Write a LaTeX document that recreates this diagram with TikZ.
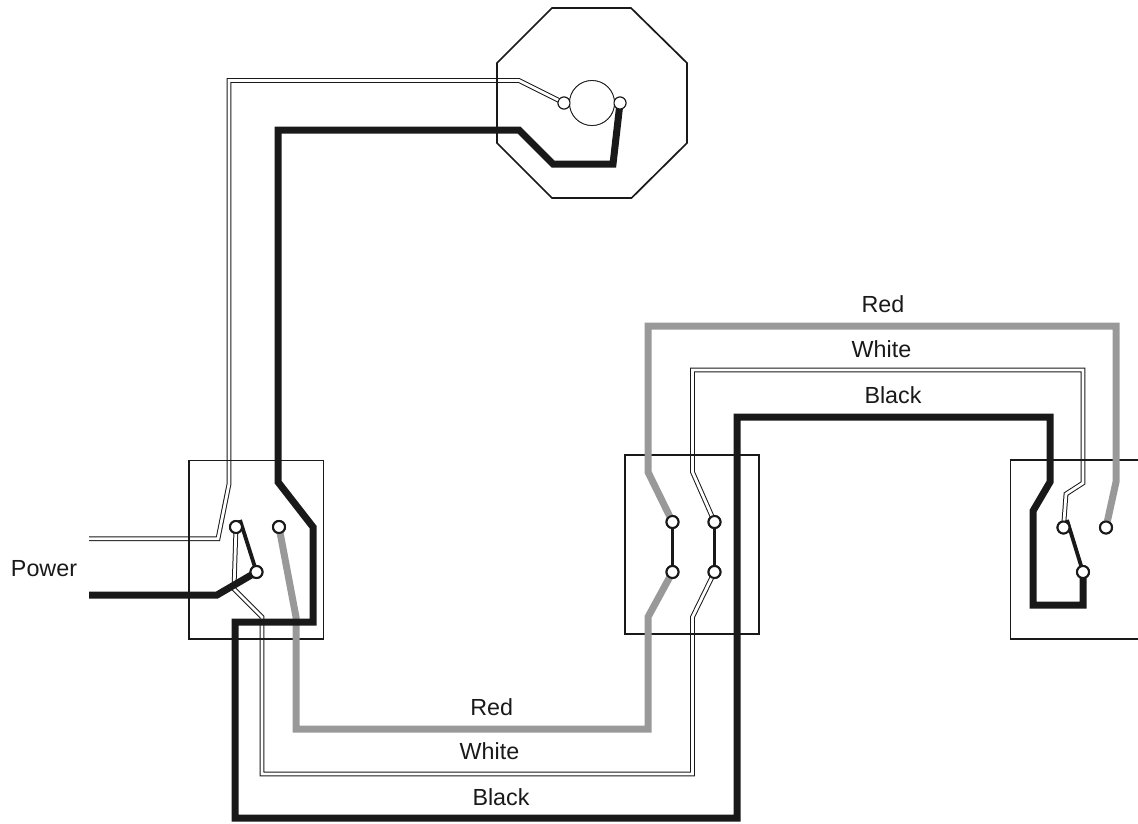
\documentclass[tikz,border=0pt]{standalone}
\usepackage{fontspec}
\setmainfont{Liberation Sans}
\tikzset{
 x=1pt,y=-1pt,
 boxline/.style={draw=black!90,line width=1.2pt},
 housing/.style={draw=black!90,line width=1.7pt},
 bulb/.style={draw=black!90,line width=0.8pt,circle,minimum size=45pt,inner sep=0pt,fill=white},
 term/.style={circle,draw=black!90,fill=white,line width=2pt,minimum size=12pt,inner sep=0pt},
 lampterm/.style={circle,draw=black!90,fill=white,line width=1pt,minimum size=12pt,inner sep=0pt},
 blackwire/.style={draw=black!90,line width=7pt,miter limit=10},
 redwire/.style={draw=black!40,line width=7pt,miter limit=10},
 whitewire/.style={draw=black!90,line width=1pt,double=white,double distance=2.8pt},
 jumper/.style={draw=black!90,line width=3.8pt},
 lbl/.style={font=\fontsize{23.3}{26}\selectfont,text=black!90,inner sep=0pt,anchor=base},
}
\begin{document}
\begin{tikzpicture}
\useasboundingbox (0,0) rectangle (1138,823);
% terminals
\node[bulb] (lamp) at (592,103) {};
\node[lampterm] (lampL) at (564,103) {};
\node[lampterm] (lampR) at (620,103) {};
\node[term] (a1) at (236,527) {};
\node[term] (a2) at (279,527) {};
\node[term] (a3) at (256.5,572) {};
\node[term] (b1) at (672.5,522) {};
\node[term] (b2) at (672.5,572) {};
\node[term] (b3) at (714.5,522) {};
\node[term] (b4) at (714.5,572) {};
\node[term] (c1) at (1063.5,527.5) {};
\node[term] (c2) at (1106,527.5) {};
\node[term] (c3) at (1083,572) {};
% free ends
\coordinate (powW) at (89,538.7);
\coordinate (powB) at (89,595);
\coordinate (leverA) at (240,520);
\coordinate (leverC) at (1067,520);
% white wires
\draw[whitewire] (powW) -- (218,538.7) -- (229,484) -- (229,80.5) -- (519,80.5) -- (lampL.center);
\draw[whitewire] (a1.center) -- (234,589) -- (262,617) -- (262,774) -- (692.5,774) -- (692.5,617) -- (b4.center);
\draw[whitewire] (b3.center) -- (692.5,472) -- (692.5,370) -- (1083,370) -- (1083,483) -- (1066,494) -- (c1.center);
% lamp housing
\draw[housing] (552,8) -- (631,8) -- (687,63) -- (687,143) -- (631.5,198) -- (552,198) -- (497,143) -- (497,63) -- cycle;
% boxes
\draw[boxline] (189,460.5) rectangle (323.5,639);
\draw[boxline] (625,455) rectangle (759,634);
\draw[boxline] (1138,460) -- (1010.5,460) -- (1010.5,639) -- (1138,639);
% red wires
\draw[redwire] (a2.center) -- (296,617) -- (296,729) -- (648,729) -- (648,617) -- (b2.center);
\draw[redwire] (b1.center) -- (648,472) -- (648,326) -- (1116,326) -- (1116,482) -- (c2.center);
% black wires
\draw[blackwire] (powB) -- (217,595) -- (a3.center);
\draw[blackwire] (lampR.center) -- (613,164) -- (553,164) -- (519,130) -- (278,130) -- (278,482) -- (313,527) -- (313,622) -- (235,622) -- (235,818) -- (737,818) -- (737,417) -- (1050,417) -- (1050,482) -- (1033,511) -- (1033,605) -- (1083,605) -- (c3.center);
% levers and jumpers
\draw[jumper] (leverA) -- (a3.center);
\draw[jumper] (leverC) -- (c3.center);
\draw[jumper] (b1.center) -- (b2.center);
\draw[jumper] (b3.center) -- (b4.center);
% bulb and terminals on top
\node[bulb] at (lamp.center) {};
\node[lampterm] at (lampL.center) {};
\node[lampterm] at (lampR.center) {};
\foreach \t in {a1,a2,a3,b1,b2,b3,b4,c1,c2,c3} \node[term] at (\t.center) {};
% labels
\node[lbl] (tpower) at (44,576) {Power};
\node[lbl] (tr1) at (491.7,715) {Red};
\node[lbl] (tw1) at (489.5,759) {White};
\node[lbl] (tb1) at (501,805) {Black};
\node[lbl] (tr2) at (883,312.7) {Red};
\node[lbl] (tw2) at (881.5,357) {White};
\node[lbl] (tb2) at (893,403) {Black};
\end{tikzpicture}
\end{document}
